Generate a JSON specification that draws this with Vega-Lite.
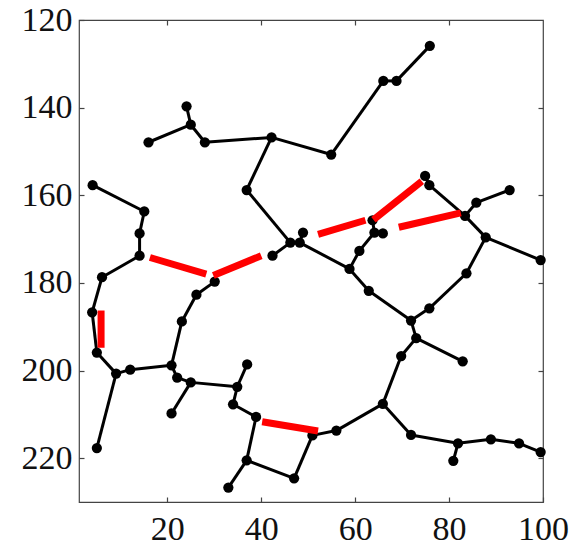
{
  "$schema": "https://vega.github.io/schema/vega-lite/v6.json",
  "width": 464,
  "height": 482,
  "autosize": {"type": "none"},
  "padding": {"left": 79, "top": 20, "right": 33, "bottom": 45},
  "background": "white",
  "config": {
    "view": {"stroke": "#444", "strokeWidth": 1.2},
    "axis": {
      "domain": false, "grid": false, "tickColor": "#444", "tickSize": -5, "tickWidth": 1.2,
      "labelFont": "Liberation Serif", "labelFontSize": 34, "labelColor": "#111",
      "labelOverlap": false, "labelFlush": false, "labelBound": false, "title": null
    }
  },
  "datasets": {
    "edges": [
      {"x1": 24.1, "y1": 139.7, "x2": 25.0, "y2": 143.9},
      {"x1": 25.0, "y1": 143.9, "x2": 16.0, "y2": 147.9},
      {"x1": 25.0, "y1": 143.9, "x2": 28.0, "y2": 147.9},
      {"x1": 28.0, "y1": 147.9, "x2": 42.2, "y2": 146.8},
      {"x1": 42.2, "y1": 146.8, "x2": 36.9, "y2": 158.8},
      {"x1": 42.2, "y1": 146.8, "x2": 54.9, "y2": 150.7},
      {"x1": 54.9, "y1": 150.7, "x2": 66.0, "y2": 133.9},
      {"x1": 66.0, "y1": 133.9, "x2": 68.8, "y2": 133.9},
      {"x1": 68.8, "y1": 133.9, "x2": 75.9, "y2": 125.9},
      {"x1": 4.1, "y1": 157.7, "x2": 15.1, "y2": 163.7},
      {"x1": 15.1, "y1": 163.7, "x2": 14.1, "y2": 168.7},
      {"x1": 14.1, "y1": 168.7, "x2": 14.1, "y2": 173.8},
      {"x1": 14.1, "y1": 173.8, "x2": 6.1, "y2": 178.7},
      {"x1": 6.1, "y1": 178.7, "x2": 4.0, "y2": 186.7},
      {"x1": 4.0, "y1": 186.7, "x2": 5.0, "y2": 195.9},
      {"x1": 5.0, "y1": 195.9, "x2": 9.1, "y2": 200.7},
      {"x1": 9.1, "y1": 200.7, "x2": 12.1, "y2": 199.8},
      {"x1": 9.1, "y1": 200.7, "x2": 5.0, "y2": 217.7},
      {"x1": 12.1, "y1": 199.8, "x2": 20.9, "y2": 198.8},
      {"x1": 20.9, "y1": 198.8, "x2": 23.1, "y2": 188.8},
      {"x1": 23.1, "y1": 188.8, "x2": 26.2, "y2": 182.7},
      {"x1": 26.2, "y1": 182.7, "x2": 30.1, "y2": 179.7},
      {"x1": 20.9, "y1": 198.8, "x2": 22.1, "y2": 201.6},
      {"x1": 22.1, "y1": 201.6, "x2": 25.0, "y2": 202.7},
      {"x1": 25.0, "y1": 202.7, "x2": 20.9, "y2": 209.8},
      {"x1": 25.0, "y1": 202.7, "x2": 34.9, "y2": 203.7},
      {"x1": 34.9, "y1": 203.7, "x2": 37.0, "y2": 198.6},
      {"x1": 34.9, "y1": 203.7, "x2": 34.0, "y2": 207.7},
      {"x1": 34.0, "y1": 207.7, "x2": 38.9, "y2": 210.6},
      {"x1": 38.9, "y1": 210.6, "x2": 36.9, "y2": 220.5},
      {"x1": 36.9, "y1": 220.5, "x2": 33.0, "y2": 226.7},
      {"x1": 36.9, "y1": 220.5, "x2": 47.0, "y2": 224.6},
      {"x1": 47.0, "y1": 224.6, "x2": 50.9, "y2": 214.8},
      {"x1": 50.9, "y1": 214.8, "x2": 56.0, "y2": 213.7},
      {"x1": 56.0, "y1": 213.7, "x2": 65.9, "y2": 207.6},
      {"x1": 65.9, "y1": 207.6, "x2": 71.9, "y2": 214.7},
      {"x1": 71.9, "y1": 214.7, "x2": 81.9, "y2": 216.6},
      {"x1": 81.9, "y1": 216.6, "x2": 80.9, "y2": 220.6},
      {"x1": 81.9, "y1": 216.6, "x2": 88.9, "y2": 215.7},
      {"x1": 88.9, "y1": 215.7, "x2": 94.9, "y2": 216.6},
      {"x1": 94.9, "y1": 216.6, "x2": 99.5, "y2": 218.6},
      {"x1": 65.9, "y1": 207.6, "x2": 69.8, "y2": 196.7},
      {"x1": 69.8, "y1": 196.7, "x2": 73.0, "y2": 192.6},
      {"x1": 73.0, "y1": 192.6, "x2": 82.9, "y2": 197.9},
      {"x1": 73.0, "y1": 192.6, "x2": 71.9, "y2": 188.6},
      {"x1": 71.9, "y1": 188.6, "x2": 75.8, "y2": 185.8},
      {"x1": 75.8, "y1": 185.8, "x2": 83.7, "y2": 177.8},
      {"x1": 83.7, "y1": 177.8, "x2": 87.8, "y2": 169.6},
      {"x1": 87.8, "y1": 169.6, "x2": 99.5, "y2": 174.8},
      {"x1": 87.8, "y1": 169.6, "x2": 83.4, "y2": 164.7},
      {"x1": 83.4, "y1": 164.7, "x2": 85.8, "y2": 161.7},
      {"x1": 85.8, "y1": 161.7, "x2": 92.9, "y2": 158.8},
      {"x1": 83.4, "y1": 164.7, "x2": 75.8, "y2": 157.7},
      {"x1": 75.8, "y1": 157.7, "x2": 74.9, "y2": 155.6},
      {"x1": 36.9, "y1": 158.8, "x2": 46.2, "y2": 170.8},
      {"x1": 46.2, "y1": 170.8, "x2": 48.2, "y2": 170.8},
      {"x1": 46.2, "y1": 170.8, "x2": 42.4, "y2": 173.8},
      {"x1": 48.2, "y1": 170.8, "x2": 48.9, "y2": 168.5},
      {"x1": 48.2, "y1": 170.8, "x2": 58.8, "y2": 176.8},
      {"x1": 58.8, "y1": 176.8, "x2": 60.9, "y2": 172.7},
      {"x1": 60.9, "y1": 172.7, "x2": 64.1, "y2": 168.5},
      {"x1": 64.1, "y1": 168.5, "x2": 65.9, "y2": 168.7},
      {"x1": 64.1, "y1": 168.5, "x2": 63.7, "y2": 165.7},
      {"x1": 58.8, "y1": 176.8, "x2": 62.9, "y2": 181.8},
      {"x1": 62.9, "y1": 181.8, "x2": 71.9, "y2": 188.6}
    ],
    "nodes": [
      {"x": 24.1, "y": 139.7}, {"x": 25.0, "y": 143.9}, {"x": 16.0, "y": 147.9}, {"x": 28.0, "y": 147.9},
      {"x": 42.2, "y": 146.8}, {"x": 36.9, "y": 158.8}, {"x": 54.9, "y": 150.7}, {"x": 66.0, "y": 133.9},
      {"x": 68.8, "y": 133.9}, {"x": 75.9, "y": 125.9}, {"x": 4.1, "y": 157.7}, {"x": 15.1, "y": 163.7},
      {"x": 14.1, "y": 168.7}, {"x": 14.1, "y": 173.8}, {"x": 6.1, "y": 178.7}, {"x": 4.0, "y": 186.7},
      {"x": 5.0, "y": 195.9}, {"x": 9.1, "y": 200.7}, {"x": 12.1, "y": 199.8}, {"x": 5.0, "y": 217.7},
      {"x": 20.9, "y": 198.8}, {"x": 22.1, "y": 201.6}, {"x": 25.0, "y": 202.7}, {"x": 20.9, "y": 209.8},
      {"x": 23.1, "y": 188.8}, {"x": 26.2, "y": 182.7}, {"x": 30.1, "y": 179.7}, {"x": 34.9, "y": 203.7},
      {"x": 37.0, "y": 198.6}, {"x": 34.0, "y": 207.7}, {"x": 38.9, "y": 210.6}, {"x": 36.9, "y": 220.5},
      {"x": 33.0, "y": 226.7}, {"x": 47.0, "y": 224.6}, {"x": 50.9, "y": 214.8}, {"x": 56.0, "y": 213.7},
      {"x": 65.9, "y": 207.6}, {"x": 71.9, "y": 214.7}, {"x": 81.9, "y": 216.6}, {"x": 80.9, "y": 220.6},
      {"x": 88.9, "y": 215.7}, {"x": 94.9, "y": 216.6}, {"x": 99.5, "y": 218.6}, {"x": 69.8, "y": 196.7},
      {"x": 73.0, "y": 192.6}, {"x": 71.9, "y": 188.6}, {"x": 82.9, "y": 197.9}, {"x": 75.8, "y": 185.8},
      {"x": 83.7, "y": 177.8}, {"x": 99.5, "y": 174.8}, {"x": 74.9, "y": 155.6}, {"x": 75.8, "y": 157.7},
      {"x": 83.4, "y": 164.7}, {"x": 85.8, "y": 161.7}, {"x": 92.9, "y": 158.8}, {"x": 87.8, "y": 169.6},
      {"x": 48.9, "y": 168.5}, {"x": 46.2, "y": 170.8}, {"x": 48.2, "y": 170.8}, {"x": 42.4, "y": 173.8},
      {"x": 63.7, "y": 165.7}, {"x": 64.1, "y": 168.5}, {"x": 65.9, "y": 168.7}, {"x": 60.9, "y": 172.7},
      {"x": 58.8, "y": 176.8}, {"x": 62.9, "y": 181.8}
    ],
    "red": [
      {"x1": 16.3, "y1": 174.2, "x2": 28.3, "y2": 178.0},
      {"x1": 29.8, "y1": 178.3, "x2": 40.0, "y2": 173.8},
      {"x1": 52.1, "y1": 168.9, "x2": 62.2, "y2": 165.7},
      {"x1": 63.9, "y1": 165.6, "x2": 74.2, "y2": 156.8},
      {"x1": 69.3, "y1": 167.3, "x2": 82.5, "y2": 164.0},
      {"x1": 5.9, "y1": 186.3, "x2": 5.9, "y2": 194.8},
      {"x1": 40.2, "y1": 211.7, "x2": 52.1, "y2": 213.8}
    ]
  },
  "layer": [
    {
      "data": {"name": "edges"},
      "mark": {"type": "rule", "color": "black", "strokeWidth": 3},
      "encoding": {
        "x": {"field": "x1", "type": "quantitative", "scale": {"domain": [1.2, 100], "nice": false, "zero": false},
              "axis": {"orient": "bottom", "values": [20, 40, 60, 80, 100], "labelPadding": 15}},
        "x2": {"field": "x2"},
        "y": {"field": "y1", "type": "quantitative", "scale": {"domain": [120, 230], "nice": false, "zero": false, "reverse": true},
              "axis": {"orient": "left", "values": [120, 140, 160, 180, 200, 220], "labelPadding": 12}},
        "y2": {"field": "y2"}
      }
    },
    {
      "data": {"name": "nodes"},
      "mark": {"type": "circle", "color": "black", "size": 105, "opacity": 1},
      "encoding": {
        "x": {"field": "x", "type": "quantitative", "axis": {"orient": "top", "values": [20, 40, 60, 80], "labels": false}},
        "y": {"field": "y", "type": "quantitative", "axis": {"orient": "right", "values": [140, 160, 180, 200, 220], "labels": false}}
      }
    },
    {
      "data": {"name": "red"},
      "mark": {"type": "rule", "color": "#ff0000", "strokeWidth": 7, "strokeCap": "butt"},
      "encoding": {
        "x": {"field": "x1", "type": "quantitative", "axis": null},
        "x2": {"field": "x2"},
        "y": {"field": "y1", "type": "quantitative", "axis": null},
        "y2": {"field": "y2"}
      }
    }
  ],
  "resolve": {"axis": {"x": "independent", "y": "independent"}}
}
